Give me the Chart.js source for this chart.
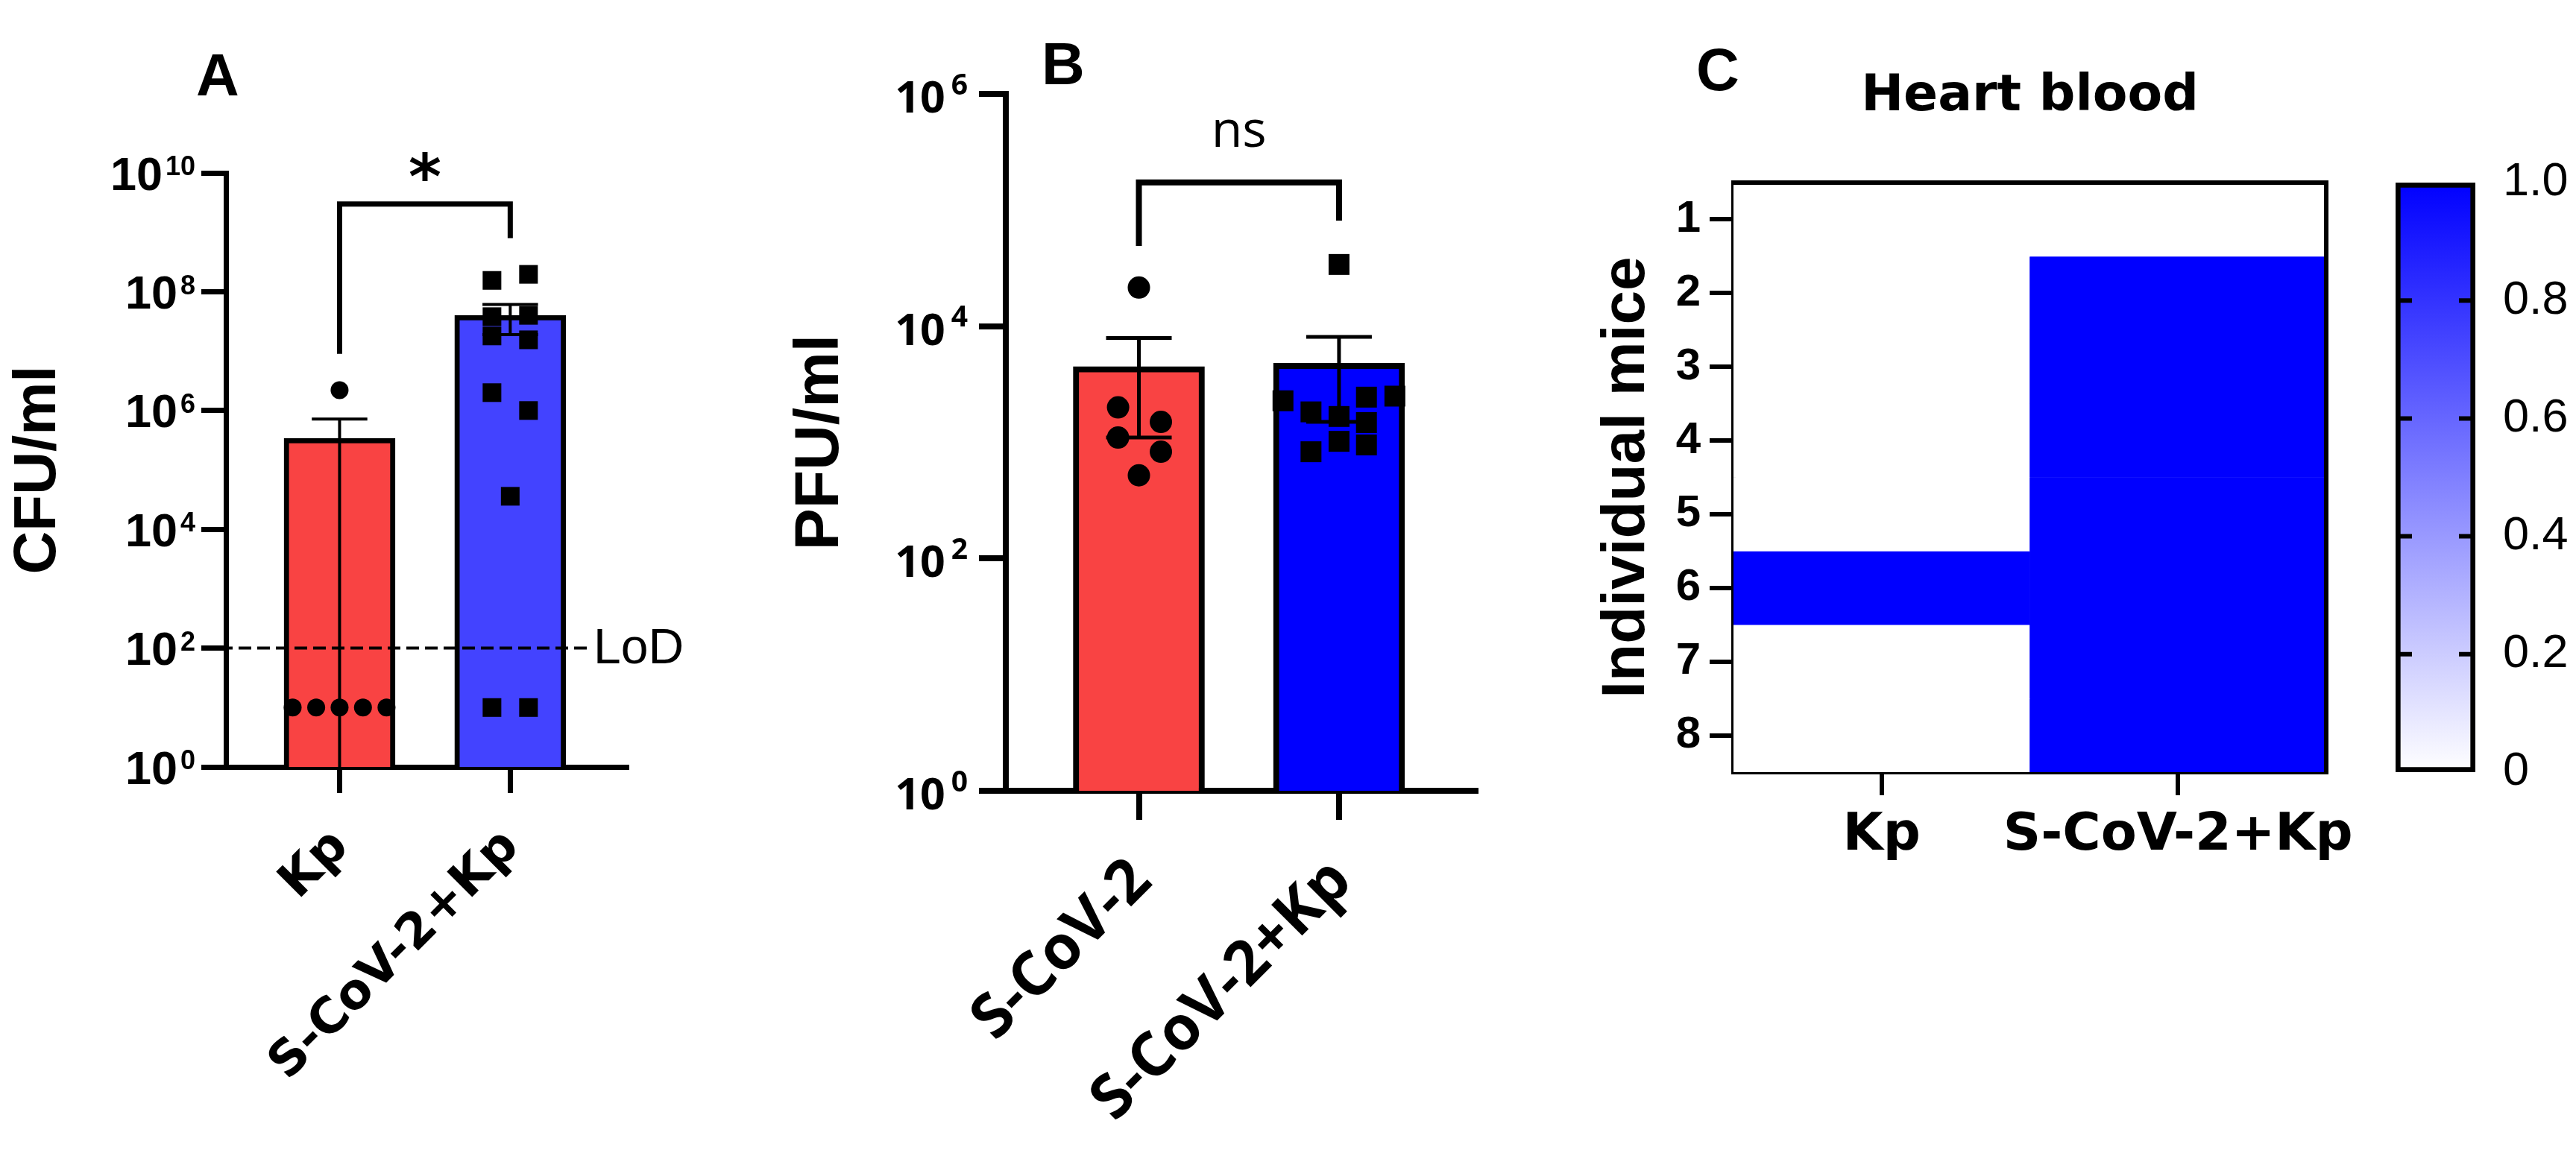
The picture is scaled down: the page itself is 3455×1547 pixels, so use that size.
<!DOCTYPE html>
<html>
<head>
<meta charset="utf-8">
<script src="https://cdn.jsdelivr.net/npm/chart.js@4.4.1/dist/chart.umd.min.js"></script>
<style>
  html, body { margin: 0; padding: 0; background: #fff; }
  body { width: 3455px; height: 1547px; position: relative; overflow: hidden; }
  canvas { position: absolute; top: 0; }
</style>
</head>
<body>
<canvas id="chartA" width="960" height="1547" style="left:0px"></canvas>
<canvas id="chartB" width="1000" height="1547" style="left:1040px"></canvas>
<canvas id="chartC" width="1080" height="1547" style="left:2130px"></canvas>
<canvas id="chartScale" width="285" height="1547" style="left:3170px"></canvas>
<script>
// A: CFU/ml
const aGroups = ['Kp', 'S-CoV-2+Kp'];
const aMeans = [3.4e5, 4.0e7];
const aSem = [3.8e5, 2.1e7];
const aKp = [2.2e6, 10, 10, 10, 10, 10];
const aKpJitter = [0, -0.275, -0.137, 0, 0.137, 0.275];
const aCovKp = [1.55e8, 1.96e8, 3.8e7, 1.8e7, 4.0e7, 1.55e7, 2.0e6, 1.0e6, 3.6e4, 10, 10];
const aCovKpJitter = [-0.107, 0.107, -0.107, -0.107, 0.107, 0.107, -0.107, 0.107, 0, -0.107, 0.107];
const aTicks = [1, 1e2, 1e4, 1e6, 1e8, 1e10];
const aBracket = [3e9, 9e6, 8e8]; // bar level, left leg end, right leg end
const lod = 100;

// B: PFU/ml
const bGroups = ['S-CoV-2', 'S-CoV-2+Kp'];
const bMeans = [4.5e3, 4.8e3];
const bSem = [3.4e3, 3.3e3];
const bCov = [2.15e4, 2000, 1500, 1100, 830, 520];
const bCovJitter = [0, -0.104, 0.11, -0.104, 0.11, 0];
const bCovKp = [3.4e4, 2280, 1830, 1670, 2450, 2500, 1480, 1020, 950, 830];
const bCovKpJitter = [0, -0.28, -0.14, 0, 0.137, 0.279, 0.137, 0, 0.137, -0.14];
const bTicks = [1, 1e2, 1e4, 1e6];
const bBracket = [1.73e5, 4.9e4, 8.1e4];

// C: heart blood, positive = 1
const cGroups = ['Kp', 'S-CoV-2+Kp'];
const mice = [1, 2, 3, 4, 5, 6, 7, 8];
const cKp = [0, 0, 0, 0, 0, 1, 0, 0];
const cCovKp = [0, 1, 1, 1, 1, 1, 1, 1];
const scaleTicks = [0, 0.2, 0.4, 0.6, 0.8, 1.0];
const scaleLabels = ['0', '0.2', '0.4', '0.6', '0.8', '1.0'];

const RED = '#F94343';
const ARIAL = 'Liberation Sans, Arial, sans-serif';
const DEJAVU = 'DejaVu Sans, sans-serif';
const shade = v => {
  const c = Math.round(255 * (1 - v));
  return `rgb(${c}, ${c}, 255)`;
};

Chart.defaults.color = '#000';

function letter(text, x, y, size) {
  return {
    id: 'letter',
    afterDraw(chart) {
      const ctx = chart.ctx;
      ctx.save();
      ctx.fillStyle = '#000';
      ctx.font = `bold ${size}px ${ARIAL}`;
      ctx.textAlign = 'center';
      ctx.textBaseline = 'alphabetic';
      ctx.fillText(text, x, y);
      ctx.restore();
    }
  };
}

// "10" with a raised exponent for each tick of the log axis
function powerLabels(o) {
  return {
    id: 'powerLabels',
    afterDraw(chart) {
      const ctx = chart.ctx;
      const y = chart.scales.y;
      const right = y.right - o.pad;
      ctx.save();
      ctx.fillStyle = '#000';
      ctx.textAlign = 'right';
      ctx.textBaseline = 'alphabetic';
      y.ticks.forEach(t => {
        const py = y.getPixelForValue(t.value);
        const exp = String(Math.round(Math.log10(t.value)));
        const baseTop = py + o.shift - o.base * o.cap / 2;
        ctx.font = `bold ${o.sup}px ${o.family}`;
        const w = ctx.measureText(exp).width;
        ctx.fillText(exp, right, baseTop - o.raise + o.sup * o.cap);
        ctx.font = `bold ${o.base}px ${o.family}`;
        ctx.fillText('10', right - w - o.gap, baseTop + o.base * o.cap);
      });
      ctx.restore();
    }
  };
}

function errorBars(means, sems, lw) {
  return {
    id: 'errorBars',
    afterDatasetDraw(chart, args) {
      if (args.index !== 0) return;
      const ctx = chart.ctx;
      const y = chart.scales.y;
      ctx.save();
      ctx.strokeStyle = '#000';
      ctx.lineWidth = lw;
      args.meta.data.forEach((bar, i) => {
        const half = bar.width / 4;
        const top = y.getPixelForValue(means[i] + sems[i]);
        const low = means[i] - sems[i];
        const bottom = low > y.min ? y.getPixelForValue(low) : y.bottom;
        ctx.beginPath();
        ctx.moveTo(bar.x, top);
        ctx.lineTo(bar.x, bottom);
        ctx.moveTo(bar.x - half, top);
        ctx.lineTo(bar.x + half, top);
        if (low > y.min) {
          ctx.moveTo(bar.x - half, bottom);
          ctx.lineTo(bar.x + half, bottom);
        }
        ctx.stroke();
      });
      ctx.restore();
    }
  };
}

function bracket(levels, label, font, gap, lw) {
  return {
    id: 'bracket',
    afterDraw(chart) {
      const {ctx, scales: {x, y}} = chart;
      const x0 = x.getPixelForValue(0);
      const x1 = x.getPixelForValue(1);
      const yb = y.getPixelForValue(levels[0]);
      ctx.save();
      ctx.strokeStyle = '#000';
      ctx.lineWidth = lw;
      ctx.lineJoin = 'miter';
      ctx.beginPath();
      ctx.moveTo(x0, y.getPixelForValue(levels[1]));
      ctx.lineTo(x0, yb);
      ctx.lineTo(x1, yb);
      ctx.lineTo(x1, y.getPixelForValue(levels[2]));
      ctx.stroke();
      ctx.fillStyle = '#000';
      ctx.font = font;
      ctx.textAlign = 'center';
      ctx.textBaseline = 'alphabetic';
      ctx.fillText(label, (x0 + x1) / 2, yb - gap);
      ctx.restore();
    }
  };
}

const lodLine = {
  id: 'lodLine',
  afterDraw(chart) {
    const {ctx, chartArea: a, scales: {y}} = chart;
    const py = y.getPixelForValue(lod);
    const end = a.right - 52;
    ctx.save();
    ctx.strokeStyle = '#000';
    ctx.lineWidth = 4;
    ctx.setLineDash([17, 8]);
    ctx.beginPath();
    ctx.moveTo(a.left - 33, py);
    ctx.lineTo(end, py);
    ctx.stroke();
    ctx.fillStyle = '#000';
    ctx.font = `66px ${ARIAL}`;
    ctx.textAlign = 'left';
    ctx.textBaseline = 'middle';
    ctx.fillText('LoD', end + 8, py + 2);
    ctx.restore();
  }
};

function groupScatter(values, jitter, center, style, radius) {
  return {
    type: 'scatter',
    data: values.map((v, i) => ({ x: center + jitter[i], y: v })),
    pointStyle: style,
    radius: radius,
    hoverRadius: radius,
    backgroundColor: '#000',
    borderWidth: 0,
    order: 0
  };
}

function axisStyle(lw, tl) {
  return {
    grid: { display: true, drawOnChartArea: false, drawTicks: true, tickLength: tl, lineWidth: lw, color: '#000', offset: false },
    border: { display: true, width: lw, color: '#000' }
  };
}

// ---------- A ----------
new Chart(document.getElementById('chartA'), {
  type: 'bar',
  data: {
    datasets: [
      {
        type: 'bar',
        data: aMeans.map((v, i) => ({ x: i, y: v })),
        backgroundColor: [RED, '#4343FF'],
        borderColor: '#000',
        borderWidth: 7,
        barThickness: 149,
        order: 1
      },
      groupScatter(aKp, aKpJitter, 0, 'circle', 12),
      groupScatter(aCovKp, aCovKpJitter, 1, 'rect', 17.7)
    ]
  },
  options: {
    responsive: false,
    animation: false,
    devicePixelRatio: 1,
    layout: { padding: { left: 0, top: 232, right: 120, bottom: 0 } },
    plugins: { legend: { display: false }, tooltip: { enabled: false } },
    scales: {
      x: {
        type: 'linear', min: -0.666, max: 1.68, offset: false,
        afterBuildTicks: s => { s.ticks = aGroups.map((g, i) => ({ value: i })); },
        afterFit: s => { s.height = 518; },
        ticks: {
          callback: v => aGroups[v],
          minRotation: 45, maxRotation: 45, autoSkip: false, padding: 34, labelOffset: 2,
          font: { family: DEJAVU, weight: 'bold', size: 66 }
        },
        ...axisStyle(7, 35)
      },
      y: {
        type: 'logarithmic', min: 1, max: 1e10,
        afterBuildTicks: s => { s.ticks = aTicks.map(v => ({ value: v })); },
        afterFit: s => { s.width = 303; },
        ticks: { display: false },
        ...axisStyle(7, 33),
        title: {
          display: true, text: 'CFU/ml',
          font: { family: ARIAL, weight: 'bold', size: 80 },
          padding: { top: 4, bottom: 0 }
        }
      }
    }
  },
  plugins: [
    errorBars(aMeans, aSem, 4),
    lodLine,
    bracket(aBracket, '*', `bold 84px ${DEJAVU}`, 8, 7),
    powerLabels({ family: ARIAL, base: 63, sup: 36, cap: 0.716, pad: 41, gap: 4, shift: 0, raise: 0 }),
    letter('A', 292, 128, 80)
  ]
});

// ---------- B ----------
new Chart(document.getElementById('chartB'), {
  type: 'bar',
  data: {
    datasets: [
      {
        type: 'bar',
        data: bMeans.map((v, i) => ({ x: i, y: v })),
        backgroundColor: [RED, '#0000FF'],
        borderColor: '#000',
        borderWidth: 8,
        barThickness: 176,
        order: 1
      },
      groupScatter(bCov, bCovJitter, 0, 'circle', 15),
      groupScatter(bCovKp, bCovKpJitter, 1, 'rect', 19.8)
    ]
  },
  options: {
    responsive: false,
    animation: false,
    devicePixelRatio: 1,
    layout: { padding: { left: 0, top: 126, right: 61, bottom: 0 } },
    plugins: { legend: { display: false }, tooltip: { enabled: false } },
    scales: {
      x: {
        type: 'linear', min: -0.665, max: 1.682, offset: false,
        afterBuildTicks: s => { s.ticks = bGroups.map((g, i) => ({ value: i })); },
        afterFit: s => { s.height = 486; },
        ticks: {
          callback: v => bGroups[v],
          minRotation: 45, maxRotation: 45, autoSkip: false, padding: 34, labelOffset: 4,
          font: { family: 'Open Sans', weight: 'bold', size: 82 }
        },
        ...axisStyle(8, 39)
      },
      y: {
        type: 'logarithmic', min: 1, max: 1e6,
        afterBuildTicks: s => { s.ticks = bTicks.map(v => ({ value: v })); },
        afterFit: s => { s.width = 309; },
        ticks: { display: false },
        ...axisStyle(8, 36),
        title: {
          display: true, text: 'PFU/ml',
          font: { family: ARIAL, weight: 'bold', size: 84 },
          padding: { top: 10, bottom: 0 }
        }
      }
    }
  },
  plugins: [
    errorBars(bMeans, bSem, 5),
    bracket(bBracket, 'ns', '68px Open Sans', 48, 8),
    powerLabels({ family: 'Open Sans', base: 59, sup: 39, cap: 0.714, pad: 51, gap: 8, shift: 4, raise: 10 }),
    letter('B', 386, 113, 80)
  ]
});

// ---------- C ----------
const boxEdges = {
  id: 'boxEdges',
  afterDraw(chart) {
    const {ctx, chartArea: a} = chart;
    ctx.save();
    ctx.strokeStyle = '#000';
    ctx.lineWidth = 6;
    ctx.beginPath();
    ctx.moveTo(a.left - 3, a.top);
    ctx.lineTo(a.right, a.top);
    ctx.lineTo(a.right, a.bottom + 3);
    ctx.stroke();
    ctx.restore();
  }
};

new Chart(document.getElementById('chartC'), {
  type: 'bar',
  data: {
    labels: cGroups,
    datasets: mice.map((m, r) => ({
      data: [[m - 0.5, m + 0.5], [m - 0.5, m + 0.5]],
      backgroundColor: [shade(cKp[r]), shade(cCovKp[r])],
      borderWidth: 0,
      barPercentage: 1,
      categoryPercentage: 1,
      grouped: false
    }))
  },
  options: {
    responsive: false,
    animation: false,
    devicePixelRatio: 1,
    layout: { padding: { left: 0, top: 0, right: 90, bottom: 0 } },
    plugins: {
      legend: { display: false },
      tooltip: { enabled: false },
      title: {
        display: true, text: 'Heart blood', fullSize: false, color: '#000',
        font: { family: DEJAVU, weight: 'bold', size: 68, lineHeight: 1.2 },
        padding: { top: 90, bottom: 73.4 }
      }
    },
    scales: {
      x: {
        offset: true,
        afterFit: s => { s.height = 511; },
        ticks: { maxRotation: 0, autoSkip: false, padding: 13, font: { family: DEJAVU, weight: 'bold', size: 70 } },
        ...axisStyle(6, 31)
      },
      y: {
        type: 'linear', min: 0.5, max: 8.5, reverse: true,
        afterBuildTicks: s => { s.ticks = mice.map(v => ({ value: v })); },
        afterFit: s => { s.width = 195; },
        ticks: { padding: 12, font: { family: ARIAL, weight: 'bold', size: 60 } },
        ...axisStyle(6, 32),
        title: {
          display: true, text: 'Individual mice',
          font: { family: ARIAL, weight: 'bold', size: 82 },
          padding: { top: 3, bottom: 0 }
        }
      }
    }
  },
  plugins: [boxEdges, letter('C', 174, 121, 80)]
});

// ---------- colour scale ----------
const innerTicks = {
  id: 'innerTicks',
  afterDatasetsDraw(chart) {
    const {ctx, chartArea: a, scales: {y}} = chart;
    ctx.save();
    ctx.strokeStyle = '#000';
    ctx.lineWidth = 6;
    scaleTicks.slice(1, -1).forEach(v => {
      const py = y.getPixelForValue(v);
      ctx.beginPath();
      ctx.moveTo(a.left, py);
      ctx.lineTo(a.left + 22, py);
      ctx.moveTo(a.right - 22, py);
      ctx.lineTo(a.right, py);
      ctx.stroke();
    });
    ctx.restore();
  }
};

new Chart(document.getElementById('chartScale'), {
  type: 'bar',
  data: {
    labels: [''],
    datasets: [{
      data: [[0, 1]],
      backgroundColor: c => {
        const {ctx, chartArea} = c.chart;
        if (!chartArea) return shade(1);
        const g = ctx.createLinearGradient(0, chartArea.bottom, 0, chartArea.top);
        g.addColorStop(0, shade(0));
        g.addColorStop(1, shade(1));
        return g;
      },
      borderColor: '#000',
      borderWidth: 7,
      borderSkipped: false,
      barPercentage: 1,
      categoryPercentage: 1
    }]
  },
  options: {
    responsive: false,
    animation: false,
    devicePixelRatio: 1,
    layout: { padding: { left: 43, top: 245, right: 0, bottom: 511 } },
    plugins: { legend: { display: false }, tooltip: { enabled: false } },
    scales: {
      x: { display: false },
      y: {
        position: 'right', min: 0, max: 1,
        afterBuildTicks: s => { s.ticks = scaleTicks.map(v => ({ value: v })); },
        afterFit: s => { s.width = 135; },
        ticks: {
          callback: (v, i) => scaleLabels[i],
          padding: 37,
          font: { family: ARIAL, size: 63 }
        },
        grid: { display: false, drawTicks: false },
        border: { display: false }
      }
    }
  },
  plugins: [innerTicks]
});
</script>
</body>
</html>
